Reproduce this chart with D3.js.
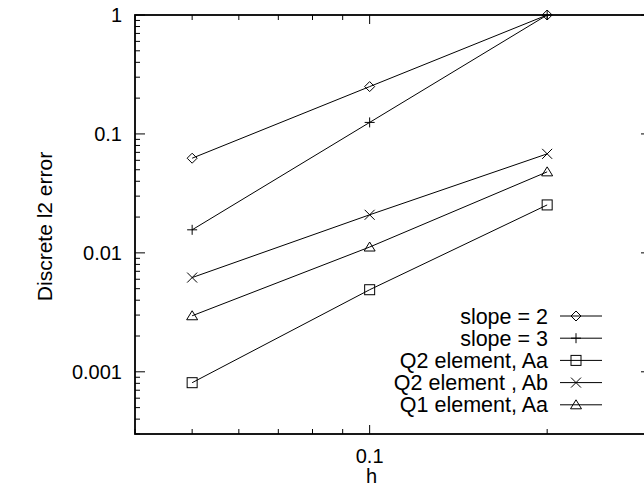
<!DOCTYPE html>
<html><head><meta charset="utf-8">
<script src="https://cdn.jsdelivr.net/npm/d3@7/dist/d3.min.js"></script>
<style>body{margin:0;background:#fff}svg{display:block}text{font-family:"Liberation Sans",Arial,sans-serif;fill:#000}</style>
</head><body><svg id="c" width="644" height="489"></svg>
<script>
const hValues = [0.05, 0.1, 0.2];
const seriesNames = ["slope = 2", "slope = 3", "Q2 element, Aa", "Q2 element , Ab", "Q1 element, Aa"];
const seriesMarkers = ["diamond", "plus", "square", "cross", "triangle"];
const slope2 = [0.0625, 0.25, 1];
const slope3 = [0.015625, 0.125, 1];
const q2Aa = [0.00081, 0.0049, 0.0253];
const q2Ab = [0.0062, 0.0209, 0.068];
const q1Aa = [0.00296, 0.0112, 0.048];
const seriesValues = [slope2, slope3, q2Aa, q2Ab, q1Aa];
const xTickLabels = [0.1];
const yTickLabels = [1, 0.1, 0.01, 0.001];
const xLabel = "h", yLabel = "Discrete l2 error";

const svg = d3.select("#c");
const L = 135, R = 651, T = 15, B = 434;
const x = d3.scaleLog().domain([0.04, 0.3]).range([L, R]);
const y = d3.scaleLog().domain([0.0003, 1]).range([B, T]);
const FS = 20, LFS = 21.5;

const g = svg.append("g");
g.append("rect").attr("x", L).attr("y", T).attr("width", R - L).attr("height", B - T)
 .attr("fill", "none").attr("stroke", "#000").attr("stroke-width", 1.8);

const xMinor = [0.04,0.05,0.06,0.07,0.08,0.09,0.2,0.3];
const xMajor = [0.1];
function xt(vals, len){
  vals.forEach(v=>{
    g.append("line").attr("x1",x(v)).attr("x2",x(v)).attr("y1",B).attr("y2",B-len).attr("stroke","#000");
    g.append("line").attr("x1",x(v)).attr("x2",x(v)).attr("y1",T).attr("y2",T+len).attr("stroke","#000");
  });
}
xt(xMinor, 5); xt(xMajor, 9);
const yMinor = [];
[0.0001,0.001,0.01,0.1].forEach(d=>{for(let k=2;k<=9;k++){const v=d*k; if(v>=0.0003 && v<1) yMinor.push(v);}});
function yt(vals, len){
  vals.forEach(v=>{
    g.append("line").attr("y1",y(v)).attr("y2",y(v)).attr("x1",L).attr("x2",L+len).attr("stroke","#000");
    g.append("line").attr("y1",y(v)).attr("y2",y(v)).attr("x1",R).attr("x2",R-len).attr("stroke","#000");
  });
}
yt(yMinor, 5); yt(yTickLabels, 10);

xTickLabels.forEach(v=>{
  g.append("text").attr("x",x(v)).attr("y",B+29).attr("text-anchor","middle").attr("font-size",FS).text(v);
});
yTickLabels.forEach(v=>{
  g.append("text").attr("x",L-13).attr("y",y(v)).attr("dy","0.35em").attr("text-anchor","end").attr("font-size",FS).text(v);
});
g.append("text").attr("x",x(0.1)+2).attr("y",B+49).attr("text-anchor","middle").attr("font-size",FS).text(xLabel);
g.append("text").attr("transform",`translate(52,${(T+B)/2+2}) rotate(-90)`).attr("text-anchor","middle").attr("font-size",21).text(yLabel);

function marker(sel, type, cx, cy){
  const s = sel.append("g").attr("transform",`translate(${cx},${cy})`).attr("fill","none").attr("stroke","#000").attr("stroke-width",1);
  if(type==="diamond") s.append("path").attr("d","M0,-5L5,0L0,5L-5,0Z");
  if(type==="plus") s.append("path").attr("d","M-5,0H5M0,-5V5");
  if(type==="square") s.append("rect").attr("x",-5).attr("y",-5).attr("width",10).attr("height",10);
  if(type==="cross") s.append("path").attr("d","M-5,-5L5,5M-5,5L5,-5");
  if(type==="triangle") s.append("path").attr("d","M0,-5L5.5,4L-5.5,4Z");
}
const line = d3.line().x((d,i)=>x(hValues[i])).y(d=>y(d));
seriesValues.forEach((vals,si)=>{
  g.append("path").attr("d",line(vals)).attr("fill","none").attr("stroke","#000").attr("stroke-width",1);
  vals.forEach((v,i)=>marker(g, seriesMarkers[si], x(hValues[i]), y(v)));
});

const legY0 = 316, legDy = 22.2;
seriesNames.forEach((n,i)=>{
  const yy = legY0 + i*legDy;
  g.append("text").attr("x",548).attr("y",yy).attr("dy","0.35em").attr("text-anchor","end").attr("font-size",LFS).text(n);
  g.append("line").attr("x1",560).attr("x2",602).attr("y1",yy).attr("y2",yy).attr("stroke","#000");
  marker(g, seriesMarkers[i], 576, yy);
});
</script></body></html>
